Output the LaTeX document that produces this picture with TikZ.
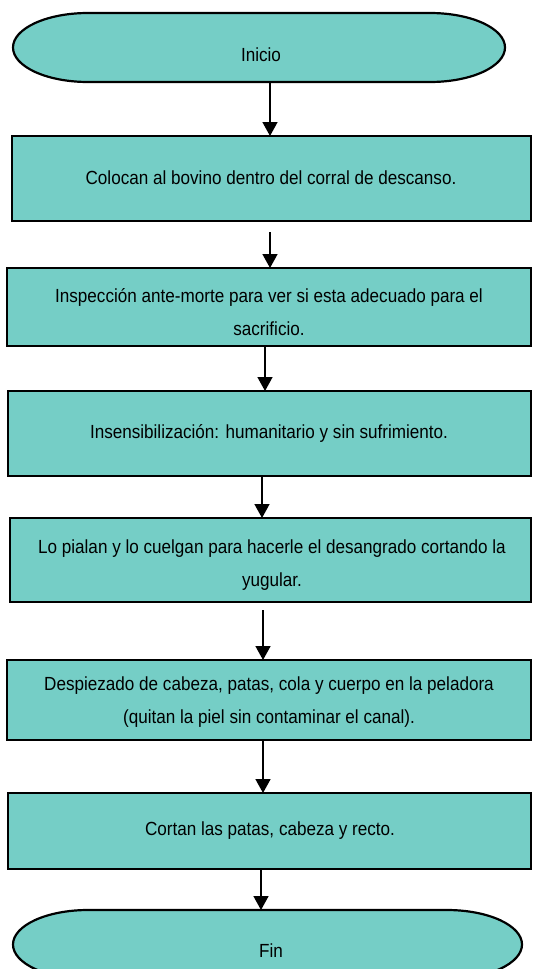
\documentclass[tikz,border=0pt]{standalone}
\usepackage{fontspec}
\setmainfont{Liberation Sans}[FakeStretch=0.9]
\usetikzlibrary{arrows.meta}
\definecolor{tealfill}{RGB}{117,206,198}
\tikzset{
  px/.style={x=1pt,y=-1pt},
  stepbox/.style={draw=black,line width=2.2pt,fill=tealfill},
  term/.style={draw=black,line width=2.2pt,fill=tealfill},
  lbl/.style={font=\fontsize{19}{33}\selectfont,align=center,inner sep=0pt},
  flow/.style={line width=1.6pt,-{Triangle[width=15pt,length=14pt]}}
}
\begin{document}
\begin{tikzpicture}[px]
\useasboundingbox (0,0) rectangle (534,969);
\clip (0,0) rectangle (534,969);
% start terminal
\draw[term] (88,13) -- (430,13) arc[start angle=-90,end angle=90,x radius=75,y radius=34.5] -- (88,82) arc[start angle=90,end angle=270,x radius=75,y radius=34.5] -- cycle;
\node[lbl] (start) at (261,55) {Inicio};
\coordinate (startb) at (270,82);
% boxes
\draw[stepbox] (12,136) rectangle (531,221);
\node[lbl] (b1) at (271,178) {Colocan al bovino dentro del corral de descanso.};
\coordinate (b1t) at (270,136);
\draw[stepbox] (7,268) rectangle (531,346);
\node[lbl] (b2) at (269,312) {Inspección ante-morte para ver si esta adecuado para el\\sacrificio.};
\coordinate (b2t) at (270,268);
\coordinate (b2b) at (265,346);
\draw[stepbox] (8,391) rectangle (531,476);
\node[lbl] (b3) at (269,433) {Insensibilización: humanitario y sin sufrimiento.};
\coordinate (b3t) at (265,391);
\coordinate (b3b) at (262,476);
\draw[stepbox] (10,518) rectangle (531,602);
\node[lbl] (b4) at (272,565) {Lo pialan y lo cuelgan para hacerle el desangrado cortando la\\yugular.};
\coordinate (b4t) at (262,518);
\draw[stepbox] (7,660) rectangle (531,740);
\node[lbl] (b5) at (269,702) {Despiezado de cabeza, patas, cola y cuerpo en la peladora\\(quitan la piel sin contaminar el canal).};
\coordinate (b5t) at (263,660);
\coordinate (b5b) at (263,740);
\draw[stepbox] (8,793) rectangle (531,869);
\node[lbl] (b6) at (270,831) {Cortan las patas, cabeza y recto.};
\coordinate (b6t) at (263,793);
\coordinate (b6b) at (261,869);
% end terminal
\draw[term] (88,910) -- (447,910) arc[start angle=-90,end angle=90,x radius=75,y radius=34.5] -- (88,979) arc[start angle=90,end angle=270,x radius=75,y radius=34.5] -- cycle;
\node[lbl] (fin) at (271,951) {Fin};
\coordinate (fint) at (261,910);
% free arrow starts
\coordinate (a2s) at (270,232);
\coordinate (a5s) at (263,610);
% connectors
\draw[flow] (startb) -- (b1t);
\draw[flow] (a2s) -- (b2t);
\draw[flow] (b2b) -- (b3t);
\draw[flow] (b3b) -- (b4t);
\draw[flow] (a5s) -- (b5t);
\draw[flow] (b5b) -- (b6t);
\draw[flow] (b6b) -- (fint);
\end{tikzpicture}
\end{document}
